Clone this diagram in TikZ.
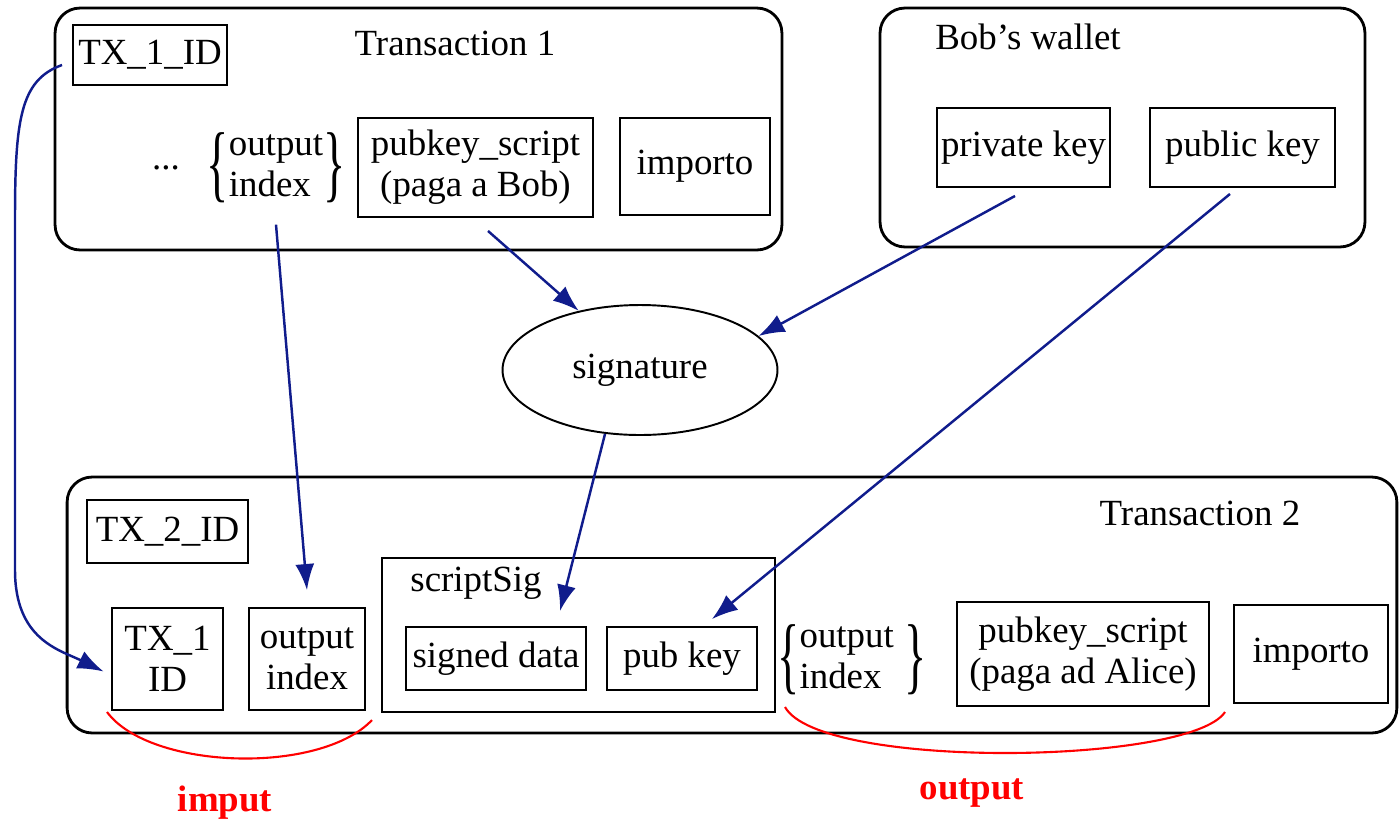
\documentclass[tikz,border=0pt]{standalone}
\usepackage{fontspec}
\setmainfont{Liberation Serif}
\usepackage{graphicx}
\usepackage{tikz}
\usetikzlibrary{positioning, arrows.meta}
\usetikzlibrary{shapes,shapes.geometric}
\definecolor{linkblue}{RGB}{16,28,140}

\begin{document}
\begin{tikzpicture}[x=0.02cm, y=-0.02cm,
		every node/.style={font=\fontsize{21}{23.5}\selectfont},
		frame/.style={draw, line width=1.6pt, rounded corners=0.5cm, inner sep=0},
		box/.style={draw, line width=1.1pt, align=center, inner sep=0},
		link/.style={draw=linkblue, line width=1.4pt, -{Latex[length=0.52cm, width=0.38cm]}},
		bracket/.style={draw=red, line width=1.2pt},
		redlabel/.style={text=red, font=\fontsize{21}{23.5}\selectfont\bfseries}]
		\useasboundingbox (0,0) rectangle (1400,826);
		
		\node[frame, minimum width=14.54cm, minimum height=4.84cm] (t1) at (418.5,129) {};
		\node (t1label) at (455,43) {Transaction 1};
		\node[box, minimum width=3.08cm, minimum height=1.2cm] (tx1id) at (150,55) {TX\_1\_ID};
		\node (dots) at (166,168) {...};
		\node[inner sep=0] (oidx1) at (276,168) {$\vcenter{\hbox{\scalebox{1.25}[2.3]{\{}}}\begin{tabular}{@{}l@{}}output\\index\end{tabular}\vcenter{\hbox{\scalebox{1.25}[2.3]{\}}}}$};
		\node[box, minimum width=4.7cm, minimum height=1.98cm] (pks1) at (475.5,167.5) {pubkey\_script\\(paga a Bob)};
		\node[box, minimum width=3.0cm, minimum height=1.94cm] (imp1) at (695,166.5) {importo};
		
		\node[frame, minimum width=9.7cm, minimum height=4.78cm] (wallet) at (1122.5,127.5) {};
		\node (walletlabel) at (1028,37) {Bob's wallet};
		\node[box, minimum width=3.46cm, minimum height=1.58cm] (privk) at (1023.5,147.5) {private key};
		\node[box, minimum width=3.7cm, minimum height=1.58cm] (pubk) at (1242.5,147.5) {public key};
		
		\node[draw, ellipse, line width=1.1pt, inner sep=0, minimum width=5.5cm, minimum height=2.6cm] (sig) at (640,370) {signature};
		
		\node[frame, minimum width=26.6cm, minimum height=5.12cm] (t2) at (732,605) {};
		\node (t2label) at (1200,513) {Transaction 2};
		\node[box, minimum width=3.22cm, minimum height=1.26cm] (tx2id) at (167.5,531.5) {TX\_2\_ID};
		\node[box, minimum width=2.22cm, minimum height=2.04cm] (tx1ref) at (167.5,659) {TX\_1\\ID};
		\node[box, minimum width=2.32cm, minimum height=2.04cm] (oidx2) at (307,659) {output\\index};
		\node[box, minimum width=7.86cm, minimum height=3.08cm] (ssig) at (578.5,635) {};
		\node (ssiglabel) at (476,583) {scriptSig};
		\node[box, minimum width=3.6cm, minimum height=1.26cm] (sdata) at (496,658.5) {signed data};
		\node[box, minimum width=3.0cm, minimum height=1.26cm] (pkey) at (682,658.5) {pub key};
		\node[inner sep=0] (oidx3) at (852,660) {$\vcenter{\hbox{\scalebox{1.25}[2.3]{\{}}}\begin{tabular}{@{}l@{}}output\\index\end{tabular}\hspace{6pt}\vcenter{\hbox{\scalebox{1.25}[2.3]{\}}}}$};
		\node[box, minimum width=5.04cm, minimum height=2.08cm] (pks2) at (1083,654) {pubkey\_script\\(paga ad Alice)};
		\node[box, minimum width=3.08cm, minimum height=1.96cm] (imp2) at (1311,654) {importo};
		
		\node[redlabel] (inlabel) at (225,803) {imput};
		\node[redlabel] (outlabel) at (972,793) {output};
		\coordinate (inL) at (107,712);
		\coordinate (inR) at (372,720);
		\coordinate (outL) at (785,707);
		\coordinate (outR) at (1225,712);
		
		\draw[link] ([xshift=-0.2cm,yshift=-0.2cm]tx1id.west) .. controls (20,80) and (15,120) .. (15,220) -- (15,570) .. controls (15,640) and (60,650) .. ([xshift=-0.15cm,yshift=-0.25cm]tx1ref.west);
		\draw[link] ([yshift=-0.3cm]oidx1.south) -- ([yshift=0.34cm]oidx2.north);
		\draw[link] ([xshift=0.25cm,yshift=-0.26cm]pks1.south) -- (sig.136);
		\draw[link] ([xshift=-0.17cm,yshift=-0.16cm]privk.south) -- (sig.16);
		\draw[link] ([xshift=-0.25cm,yshift=-0.12cm]pubk.south) -- ([xshift=0.6cm,yshift=0.14cm]pkey.north);
		\draw[link] ([xshift=-0.7cm,yshift=0.04cm]sig.south) -- ([xshift=1.28cm,yshift=0.3cm]sdata.north);
		
		\draw[bracket] (inL) .. controls (150,770) and (320,775) .. (inR);
		\draw[bracket] (outL) .. controls (820,770) and (1190,765) .. (outR);
		
		\end{tikzpicture}
\end{document}
